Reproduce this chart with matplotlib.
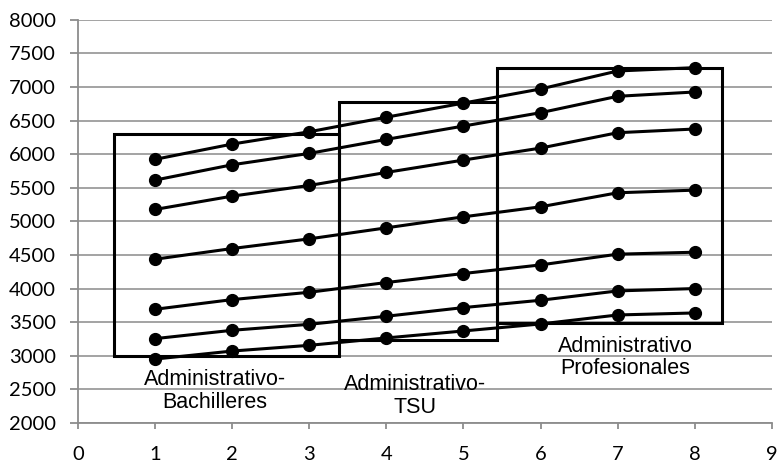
import numpy as np
import matplotlib.pyplot as plt
from matplotlib.patches import Rectangle

plt.rcParams['font.family'] = ['Lato', 'DejaVu Sans']

x = [1, 2, 3, 4, 5, 6, 7, 8]

s1 = [5925, 6152, 6335, 6552, 6762, 6972, 7240, 7289]
s2 = [5616, 5844, 6013, 6222, 6420, 6619, 6863, 6927]
s3 = [5179, 5377, 5536, 5730, 5914, 6092, 6321, 6376]
s4 = [4438, 4597, 4741, 4905, 5069, 5218, 5427, 5466]
s5 = [3693, 3837, 3946, 4091, 4225, 4353, 4513, 4542]
s6 = [3256, 3380, 3469, 3589, 3718, 3827, 3966, 4001]
s7 = [2952, 3071, 3156, 3266, 3370, 3474, 3608, 3638]
series = [s1, s2, s3, s4, s5, s6, s7]

# boxes: x0, x1, y0, y1
box_x0 = [0.47, 3.39, 5.43]
box_x1 = [3.39, 5.43, 8.36]
box_y0 = [2990, 3230, 3495]
box_y1 = [6300, 6780, 7290]

labels = ["Administrativo-\nBachilleres", "Administrativo-\nTSU", "Administrativo\nProfesionales"]
label_x = [1.77, 4.37, 7.10]
label_y = [2475, 2400, 2975]

fig = plt.figure(figsize=(7.78, 4.63), dpi=100)
ax = fig.add_axes([0.1004, 0.0864, 0.8916, 0.8706])

for s in series:
    ax.plot(x, s, color="black", lw=2.2, marker="o", ms=8.5, zorder=3, clip_on=False)

for i in range(len(box_x0)):
    r = Rectangle((box_x0[i], box_y0[i]), box_x1[i] - box_x0[i], box_y1[i] - box_y0[i],
                  fill=False, edgecolor="black", lw=2.2, zorder=2)
    ax.add_patch(r)

for i in range(len(labels)):
    ax.text(label_x[i], label_y[i], labels[i], ha="center", va="center",
            fontsize=15.5, family="Liberation Sans", linespacing=1.1, zorder=4)

ax.set_xlim(0, 9)
ax.set_ylim(2000, 8000)
ax.set_xticks(np.arange(0, 10, 1))
ax.set_yticks(np.arange(2000, 8001, 500))
ax.grid(axis="y", color="#9c9c9c", lw=1.3)
ax.set_axisbelow(True)

for sp in ["top", "right"]:
    ax.spines[sp].set_visible(False)
for sp in ["left", "bottom"]:
    ax.spines[sp].set_color("#8c8c8c")
    ax.spines[sp].set_linewidth(1.3)

ax.tick_params(axis="both", direction="out", width=1.3, color="#8c8c8c", labelsize=14.5)
ax.tick_params(axis="y", length=6, pad=10)
ax.tick_params(axis="x", length=4.5, pad=12)

plt.savefig("out.png", dpi=100)
